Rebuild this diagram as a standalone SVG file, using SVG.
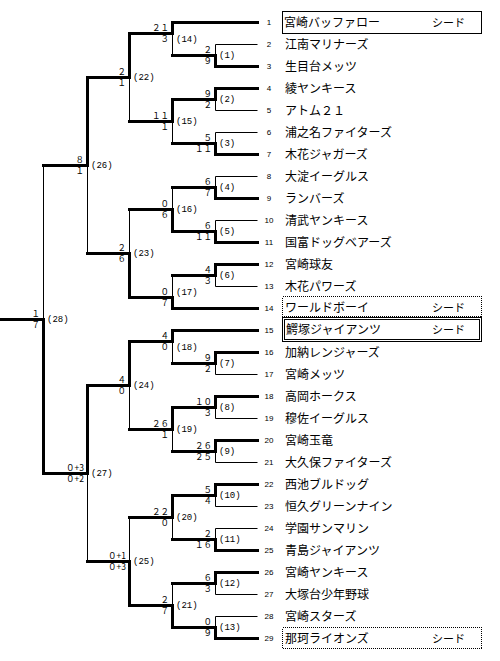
<svg xmlns="http://www.w3.org/2000/svg" width="500" height="661" viewBox="0 0 500 661">
<style>
.k{stroke:#000;stroke-width:3;fill:none;stroke-linecap:square}
.n{stroke:#000;stroke-width:1;fill:none}
.bx{fill:none;stroke:#000;stroke-width:1;shape-rendering:crispEdges}
.dt{fill:none;stroke:#000;stroke-width:1;stroke-dasharray:1,1;shape-rendering:crispEdges}
.num{font-family:"Liberation Sans",sans-serif;font-size:8px;text-anchor:middle;fill:#000}
.nm{font-family:"Noto Sans CJK JP",sans-serif;font-size:12px;fill:#000}
.sd{font-family:"Noto Sans CJK JP",sans-serif;font-size:11px;fill:#000}
.s{font-family:"Noto Sans CJK JP",sans-serif;font-size:8.5px;text-anchor:end;fill:#000}
.m{font-family:"Liberation Mono",monospace;font-size:9px;fill:#000}
</style>
<rect width="500" height="661" fill="#fff"/>
<g id="connectors" transform="translate(0.5,0.5)">
<path class="n" d="M215 44H257M215 110H257M215 132H257M215 176H257M215 220H257M215 286H257M215 374H257M215 418H257M215 462H257M215 506H257M215 528H257M215 594H257M215 616H257
M215 44V55M215 99V110M215 132V143M215 176V187M215 220V231M215 275V286M215 363V374M215 407V418M215 451V462M215 495V506M215 528V539M215 583V594M215 616V627
M172 33V55M172 121V143M172 187V209M172 275V297M172 341V363M172 429V451M172 517V539M172 583V605
M129 77V121M129 209V253M129 385V429M129 517V561
M87 165V253M87 473V561
M43 165V319"/>
<path class="k" d="M172 22H257M215 66H257M215 88H257M215 154H257M215 198H257M215 242H257M215 264H257M172 308H257M172 330H257M215 352H257M215 396H257M215 440H257M215 484H257M215 550H257M215 572H257M215 638H257
M215 55V66M215 88V99M215 143V154M215 187V198M215 231V242M215 264V275M215 352V363M215 396V407M215 440V451M215 484V495M215 539V550M215 572V583M215 627V638
M172 55H215M172 99H215M172 143H215M172 187H215M172 231H215M172 275H215M172 363H215M172 407H215M172 451H215M172 495H215M172 539H215M172 583H215M172 627H215
M172 22V33M172 99V121M172 209V231M172 297V308M172 330V341M172 407V429M172 495V517M172 605V627
M129 33H172M129 121H172M129 209H172M129 297H172M129 341H172M129 429H172M129 517H172M129 605H172
M129 33V77M129 253V297M129 341V385M129 561V605
M87 77H129M87 253H129M87 385H129M87 561H129
M87 77V165M87 385V473
M43 165H87M43 473H87
M43 319V473M0 319H43"/>
</g>
<g id="team1"><rect class="bx" x="282.5" y="11.5" width="199" height="22"/><text class="num" x="269" y="25">1</text><text class="nm" x="284" y="26.5">宮崎バッファロー</text><text class="sd" x="432" y="26.5">シード</text></g>
<g id="team2"><text class="num" x="269" y="47">2</text><text class="nm" x="285" y="48.5">江南マリナーズ</text></g>
<g id="team3"><text class="num" x="269" y="69">3</text><text class="nm" x="285" y="70.5">生目台メッツ</text></g>
<g id="team4"><text class="num" x="269" y="91">4</text><text class="nm" x="285" y="92.5">綾ヤンキース</text></g>
<g id="team5"><text class="num" x="269" y="113">5</text><text class="nm" x="285" y="114.5">アトム２１</text></g>
<g id="team6"><text class="num" x="269" y="135">6</text><text class="nm" x="285" y="136.5">浦之名ファイターズ</text></g>
<g id="team7"><text class="num" x="269" y="157">7</text><text class="nm" x="285" y="158.5">木花ジャガーズ</text></g>
<g id="team8"><text class="num" x="269" y="179">8</text><text class="nm" x="285" y="180.5">大淀イーグルス</text></g>
<g id="team9"><text class="num" x="269" y="201">9</text><text class="nm" x="285" y="202.5">ランバーズ</text></g>
<g id="team10"><text class="num" x="269" y="223">10</text><text class="nm" x="285" y="224.5">清武ヤンキース</text></g>
<g id="team11"><text class="num" x="269" y="245">11</text><text class="nm" x="285" y="246.5">国富ドッグベアーズ</text></g>
<g id="team12"><text class="num" x="269" y="267">12</text><text class="nm" x="285" y="268.5">宮崎球友</text></g>
<g id="team13"><text class="num" x="269" y="289">13</text><text class="nm" x="285" y="290.5">木花パワーズ</text></g>
<g id="team14"><rect class="dt" x="282.5" y="296.5" width="199" height="20"/><text class="num" x="269" y="311">14</text><text class="nm" x="285" y="311.5">ワールドボーイ</text><text class="sd" x="432" y="311.5">シード</text></g>
<g id="team15"><rect class="bx" x="282.5" y="317.5" width="199" height="24"/><rect class="bx" x="284.5" y="319.5" width="195" height="20"/><text class="num" x="269" y="333">15</text><text class="nm" x="286" y="334">鰐塚ジャイアンツ</text><text class="sd" x="432" y="334">シード</text></g>
<g id="team16"><text class="num" x="269" y="355">16</text><text class="nm" x="285" y="356.5">加納レンジャーズ</text></g>
<g id="team17"><text class="num" x="269" y="377">17</text><text class="nm" x="285" y="378.5">宮崎メッツ</text></g>
<g id="team18"><text class="num" x="269" y="399">18</text><text class="nm" x="285" y="400.5">高岡ホークス</text></g>
<g id="team19"><text class="num" x="269" y="421">19</text><text class="nm" x="285" y="422.5">穆佐イーグルス</text></g>
<g id="team20"><text class="num" x="269" y="443">20</text><text class="nm" x="285" y="444.5">宮崎玉竜</text></g>
<g id="team21"><text class="num" x="269" y="465">21</text><text class="nm" x="285" y="466.5">大久保ファイターズ</text></g>
<g id="team22"><text class="num" x="269" y="487">22</text><text class="nm" x="285" y="488.5">西池ブルドッグ</text></g>
<g id="team23"><text class="num" x="269" y="509">23</text><text class="nm" x="285" y="510.5">恒久グリーンナイン</text></g>
<g id="team24"><text class="num" x="269" y="531">24</text><text class="nm" x="285" y="532.5">学園サンマリン</text></g>
<g id="team25"><text class="num" x="269" y="553">25</text><text class="nm" x="285" y="554.5">青島ジャイアンツ</text></g>
<g id="team26"><text class="num" x="269" y="575">26</text><text class="nm" x="285" y="576.5">宮崎ヤンキース</text></g>
<g id="team27"><text class="num" x="269" y="597">27</text><text class="nm" x="285" y="598.5">大塚台少年野球</text></g>
<g id="team28"><text class="num" x="269" y="619">28</text><text class="nm" x="285" y="620.5">宮崎スターズ</text></g>
<g id="team29"><rect class="dt" x="282.5" y="627.5" width="199" height="21"/><text class="num" x="269" y="641">29</text><text class="nm" x="285" y="642.5">那珂ライオンズ</text><text class="sd" x="432" y="642.5">シード</text></g>
<g id="m1"><text class="s" x="212" y="52.5">２</text><text class="s" x="212" y="64">９</text><text class="m" x="219" y="58">(1)</text></g>
<g id="m2"><text class="s" x="212" y="96.5">９</text><text class="s" x="212" y="108">２</text><text class="m" x="219" y="102">(2)</text></g>
<g id="m3"><text class="s" x="212" y="140.5">５</text><text class="s" x="212" y="152">１１</text><text class="m" x="219" y="146">(3)</text></g>
<g id="m4"><text class="s" x="212" y="184.5">６</text><text class="s" x="212" y="196">７</text><text class="m" x="219" y="190">(4)</text></g>
<g id="m5"><text class="s" x="212" y="228.5">６</text><text class="s" x="212" y="240">１１</text><text class="m" x="219" y="234">(5)</text></g>
<g id="m6"><text class="s" x="212" y="272.5">４</text><text class="s" x="212" y="284">３</text><text class="m" x="219" y="278">(6)</text></g>
<g id="m7"><text class="s" x="212" y="360.5">９</text><text class="s" x="212" y="372">２</text><text class="m" x="219" y="366">(7)</text></g>
<g id="m8"><text class="s" x="212" y="404.5">１０</text><text class="s" x="212" y="416">３</text><text class="m" x="219" y="410">(8)</text></g>
<g id="m9"><text class="s" x="212" y="448.5">２６</text><text class="s" x="212" y="460">２５</text><text class="m" x="219" y="454">(9)</text></g>
<g id="m10"><text class="s" x="212" y="492.5">５</text><text class="s" x="212" y="504">４</text><text class="m" x="219" y="498">(10)</text></g>
<g id="m11"><text class="s" x="212" y="536.5">２</text><text class="s" x="212" y="548">１６</text><text class="m" x="219" y="542">(11)</text></g>
<g id="m12"><text class="s" x="212" y="580.5">６</text><text class="s" x="212" y="592">３</text><text class="m" x="219" y="586">(12)</text></g>
<g id="m13"><text class="s" x="212" y="624.5">０</text><text class="s" x="212" y="636">９</text><text class="m" x="219" y="630">(13)</text></g>
<g id="m14"><text class="s" x="169" y="30.5">２１</text><text class="s" x="169" y="42">３</text><text class="m" x="176" y="41.5">(14)</text></g>
<g id="m15"><text class="s" x="169" y="118.5">１１</text><text class="s" x="169" y="130">１</text><text class="m" x="176" y="124">(15)</text></g>
<g id="m16"><text class="s" x="169" y="206.5">０</text><text class="s" x="169" y="218">６</text><text class="m" x="176" y="212">(16)</text></g>
<g id="m17"><text class="s" x="169" y="294.5">０</text><text class="s" x="169" y="306">７</text><text class="m" x="176" y="294.5">(17)</text></g>
<g id="m18"><text class="s" x="169" y="338.5">４</text><text class="s" x="169" y="350">０</text><text class="m" x="176" y="349.5">(18)</text></g>
<g id="m19"><text class="s" x="169" y="426.5">２６</text><text class="s" x="169" y="438">１</text><text class="m" x="176" y="432">(19)</text></g>
<g id="m20"><text class="s" x="169" y="514.5">２２</text><text class="s" x="169" y="526">０</text><text class="m" x="176" y="520">(20)</text></g>
<g id="m21"><text class="s" x="169" y="602.5">２</text><text class="s" x="169" y="614">７</text><text class="m" x="176" y="608">(21)</text></g>
<g id="m22"><text class="s" x="126" y="74.5">２</text><text class="s" x="126" y="86">１</text><text class="m" x="133" y="80">(22)</text></g>
<g id="m23"><text class="s" x="126" y="250.5">２</text><text class="s" x="126" y="262">６</text><text class="m" x="133" y="256">(23)</text></g>
<g id="m24"><text class="s" x="126" y="382.5">４</text><text class="s" x="126" y="394">０</text><text class="m" x="133" y="388">(24)</text></g>
<g id="m25"><text class="s" x="126" y="558.5">０+1</text><text class="s" x="126" y="570">０+3</text><text class="m" x="133" y="564">(25)</text></g>
<g id="m26"><text class="s" x="84" y="162.5">８</text><text class="s" x="84" y="174">１</text><text class="m" x="91" y="168">(26)</text></g>
<g id="m27"><text class="s" x="84" y="470.5">０+3</text><text class="s" x="84" y="482">０+2</text><text class="m" x="91" y="476">(27)</text></g>
<g id="m28"><text class="s" x="40" y="316.5">１</text><text class="s" x="40" y="328">７</text><text class="m" x="47" y="322">(28)</text></g>
</svg>
